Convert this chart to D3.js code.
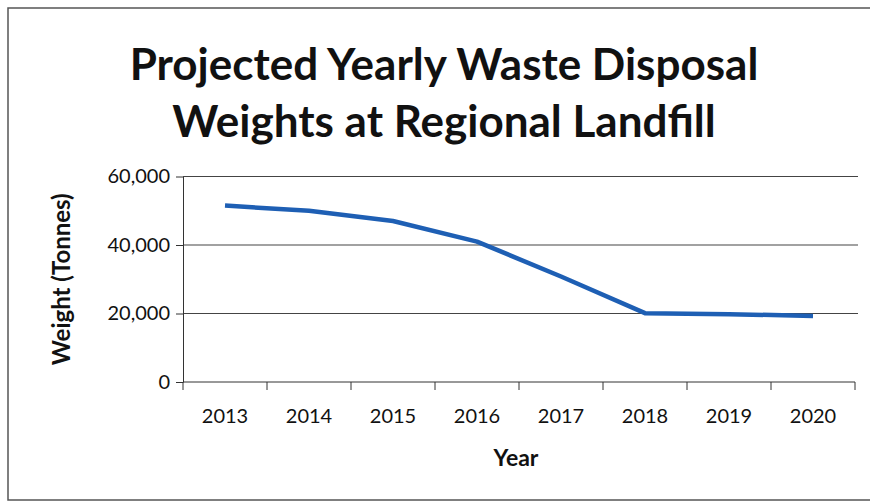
<!DOCTYPE html>
<html lang="en">
<head>
    <meta charset="UTF-8">
    <script src="https://cdn.jsdelivr.net/npm/d3@7"></script>
    <title>Projected Yearly Waste Disposal Weights</title>
    <style>
        html, body { margin: 0; background: #fff; overflow: hidden; }
        svg { display: block; }
        svg text { font-family: Lato, 'Open Sans', sans-serif; fill: #111; }
        .axis path, .axis line { stroke: #333; }
        .grid line { stroke: #444; stroke-width: 1.2px; }
    </style>
</head>
<body>
<div id="chart"></div>
<script>
    const years = ["2013", "2014", "2015", "2016", "2017", "2018", "2019", "2020"];
    const weights = [51500, 50000, 47000, 41000, 30800, 20100, 19800, 19300];
    const yTicks = [0, 20000, 40000, 60000];
    const titleLines = ["Projected Yearly Waste Disposal", "Weights at Regional Landfill"];

    const width = 870, height = 504;
    const margin = { top: 176.5, right: 15, bottom: 122, left: 183 };

    const svg = d3.select("#chart").append("svg")
        .attr("width", width)
        .attr("height", height);

    // chart frame: left, top and bottom edges only (the right edge is cut off)
    svg.append("path")
        .attr("d", `M${width},8H8V500H${width}`)
        .attr("fill", "none")
        .attr("stroke", "#555")
        .attr("stroke-width", 1.5);

    const x = d3.scaleBand()
        .domain(years)
        .range([margin.left, width - margin.right]);

    const y = d3.scaleLinear()
        .domain([0, 60000])
        .range([height - margin.bottom, margin.top]);

    // gridlines
    svg.append("g")
        .attr("class", "grid")
        .selectAll("line")
        .data(yTicks.filter(d => d > 0))
        .enter()
        .append("line")
        .attr("x1", margin.left)
        .attr("x2", width - 12)
        .attr("y1", d => y(d))
        .attr("y2", d => y(d));

    const yAxis = svg.append("g")
        .attr("class", "axis")
        .attr("transform", `translate(${margin.left},0)`)
        .call(d3.axisLeft(y).tickValues(yTicks).tickFormat(d3.format(",")).tickSize(7).tickSizeOuter(0).tickPadding(6));
    yAxis.selectAll("text").style("font-size", "20px");

    const xAxis = svg.append("g")
        .attr("class", "axis")
        .attr("transform", `translate(0,${y(0)})`)
        .call(d3.axisBottom(x).tickSize(0).tickPadding(27).tickSizeOuter(0));
    xAxis.selectAll("text").style("font-size", "20px");
    xAxis.select(".domain").attr("d", `M${margin.left},0H${width - margin.right}`);

    // category boundary ticks
    xAxis.selectAll(".bound")
        .data(years.concat(["end"]))
        .enter()
        .append("line")
        .attr("class", "bound")
        .attr("x1", (d, i) => margin.left + i * x.step())
        .attr("x2", (d, i) => margin.left + i * x.step())
        .attr("y1", 0)
        .attr("y2", 8)
        .attr("stroke", "#333");

    const line = d3.line()
        .x((d, i) => x(years[i]) + x.bandwidth() / 2)
        .y(d => y(d));

    svg.append("path")
        .datum(weights)
        .attr("fill", "none")
        .attr("stroke", "#1e5fb4")
        .attr("stroke-width", 4.5)
        .attr("stroke-linejoin", "round")
        .attr("d", line);

    // title
    svg.append("g")
        .selectAll("text")
        .data(titleLines)
        .enter()
        .append("text")
        .attr("x", 444)
        .attr("y", (d, i) => 80 + i * 57)
        .attr("text-anchor", "middle")
        .style("font-size", "44px")
        .style("font-weight", "bold")
        .text(d => d);

    svg.append("text")
        .attr("transform", `translate(70,${(y(0) + y(60000)) / 2}) rotate(-90)`)
        .attr("text-anchor", "middle")
        .style("font-size", "24px")
        .style("font-weight", "bold")
        .text("Weight (Tonnes)");

    svg.append("text")
        .attr("x", 516)
        .attr("y", 466)
        .attr("text-anchor", "middle")
        .style("font-size", "23px")
        .style("font-weight", "bold")
        .text("Year");
</script>
</body>
</html>
